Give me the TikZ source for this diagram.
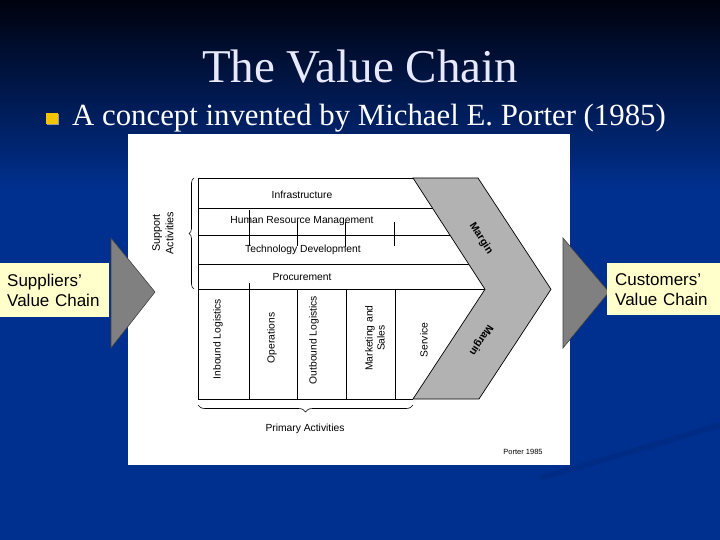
\documentclass[tikz,border=0pt]{standalone}
\usepackage{fontspec}
\setmainfont{Liberation Serif}
\newfontfamily\arialfont{Liberation Sans}
\usepackage{tikz}
\usetikzlibrary{positioning,decorations.pathreplacing}
\usepackage{xcolor}
\definecolor{slideblue}{RGB}{0,48,143}
\definecolor{slidetop}{RGB}{0,2,14}
\definecolor{titlewhite}{RGB}{232,232,255}
\definecolor{bulletgold}{RGB}{245,196,0}
\definecolor{labelyellow}{RGB}{255,255,204}
\definecolor{margingray}{RGB}{178,178,178}
\tikzset{
  chainline/.style={line width=0.7pt,black},
  rowlabel/.style={font=\arialfont\fontsize{10.3}{12}\selectfont,inner sep=1pt},
  collabel/.style={rowlabel,rotate=90,align=center},
  marginlabel/.style={font=\arialfont\bfseries\fontsize{10.5}{12}\selectfont,inner sep=1pt},
  sidebox/.style={fill=labelyellow,anchor=north west,align=left,inner ysep=0pt,
    minimum height=54pt,font=\arialfont\fontsize{17}{20}\selectfont},
  sidearrow/.style={fill=gray,draw=black!75,line width=0.6pt}
}

\begin{document}
\begin{tikzpicture}[x=1pt,y=-1pt]
\useasboundingbox (0,0) rectangle (720,540);
\fill[slideblue] (0,0) rectangle (720,540);
\shade[top color=slidetop,bottom color=slideblue] (0,0) rectangle (720,190);
\draw[slideblue!85!black,line width=6pt,opacity=.45] (540,478) .. controls (620,455) .. (720,425);

\node[font=\fontsize{47}{50}\selectfont,text=titlewhite,anchor=base] (title) at (360,83) {The Value Chain};
\fill[black!40] (47,114) rectangle (59,125);
\fill[bulletgold] (46,113) rectangle (58,124);
\node[font=\fontsize{30.8}{34}\selectfont,text=white,anchor=base west,inner sep=0pt] (sub) at (72,126) {A concept invented by Michael E. Porter (1985)};

\fill[white] (128,134) rectangle (570,465);

\foreach \y in {208.3,235.3,264.3,289.3}
  \draw[chainline] (198,\y) -- (490,\y);
\draw[chainline] (413,178) -- (198,178) -- (198,399) -- (413,399);
\foreach \x in {249,297,346,395}
  \draw[chainline] (\x,289.3) -- (\x,399);
\draw[chainline] (249,283) -- (249,289.3);
\draw[chainline] (249,210) -- (249,246);
\draw[chainline] (297,221) -- (297,246);
\draw[chainline] (345,222) -- (345,247);
\draw[chainline] (394,222) -- (394,246);
\draw[chainline,fill=margingray] (413,178) -- (478,178) -- (551,289.3) -- (479,399) -- (413,399) -- (485,289.3) -- cycle;

\node[rowlabel] (infra) at (302,194.5) {Infrastructure};
\node[rowlabel] (hrm) at (302,221.5) {Human Resource Management};
\node[rowlabel] (tech) at (303,250) {Technology Development};
\node[rowlabel] (proc) at (302,277) {Procurement};

\node[collabel] (inbound) at (218,339) {Inbound Logistics};
\node[collabel] (ops) at (272,338) {Operations};
\node[collabel] (outbound) at (314,340) {Outbound Logistics};
\node[collabel] (marketing) at (375,338) {Marketing and\\Sales};
\node[collabel] (service) at (424,340) {Service};

\node[marginlabel,rotate=-57] (margintop) at (481,238.5) {Margin};
\node[marginlabel,rotate=-123] (marginbot) at (481,340) {Margin};

\draw[chainline,line width=0.6pt,decorate,decoration={brace,amplitude=5pt}] (194,289) -- (194,178);
\node[collabel,font=\arialfont\fontsize{10.8}{13.5}\selectfont] (support) at (163,233) {Support\\Activities};
\draw[chainline,line width=0.6pt,decorate,decoration={brace,amplitude=7pt}] (413,405) -- (198,405);
\node[rowlabel] (primary) at (305,428.5) {Primary Activities};
\node[font=\arialfont\fontsize{7.5}{9}\selectfont,inner sep=0pt] (porter) at (523,451.5) {Porter 1985};

\draw[sidearrow] (111,238) -- (155,292) -- (111,348) -- cycle;
\draw[sidearrow] (563,238) -- (609,292) -- (563,348) -- cycle;

\node[sidebox,text width=95pt,inner xsep=7pt] (suppliers) at (0,263) {Suppliers’\\Value Chain};
\node[sidebox,text width=105pt,inner xsep=8pt,minimum height=52pt] (customers) at (607,263) {Customers’\\Value Chain};
\end{tikzpicture}
\end{document}
